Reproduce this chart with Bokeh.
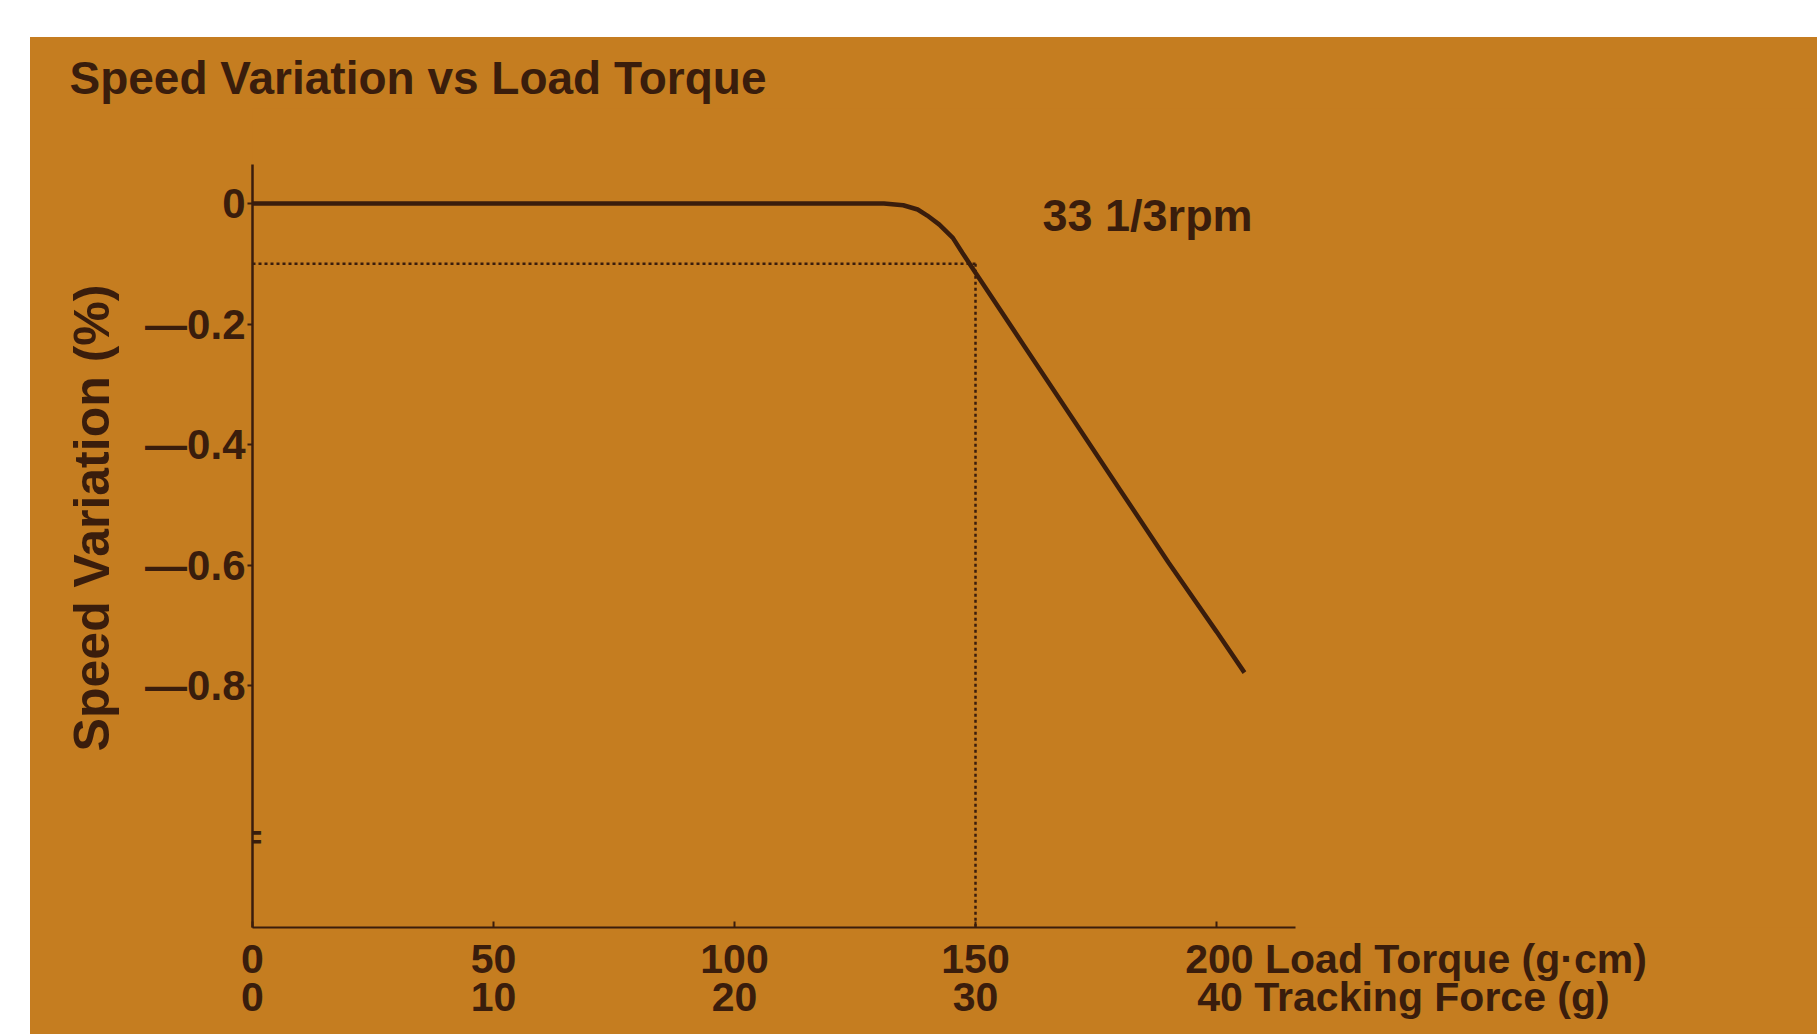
from bokeh.plotting import figure
from bokeh.models import Range1d, FixedTicker, LinearAxis, Label, Spacer
from bokeh.layouts import column, row
from bokeh.embed import file_html
from bokeh.resources import INLINE

# ---- data ----
torque = [0, 60, 120, 131, 135, 138, 140, 142.5, 145.3, 147.3, 150, 160, 170, 180, 190, 200, 205.8]
speed_var = [0, 0, 0, 0, -0.003, -0.010, -0.020, -0.035, -0.057, -0.082, -0.115,
             -0.235, -0.355, -0.475, -0.595, -0.71, -0.778]

x_ticks = [0, 50, 100, 150, 200]
x_labels_torque = ["0", "50", "100", "150", "200 Load Torque (g\u00b7cm)"]
x_labels_force = ["0", "10", "20", "30", "40 Tracking Force (g)"]
y_ticks = [0, -0.2, -0.4, -0.6, -0.8]
y_labels = ["0", "\u20140.2", "\u20140.4", "\u20140.6", "\u20140.8"]

ref_x = 150      # reference torque (dotted guide)
ref_y = -0.1     # reference speed variation (dotted guide)
break_y = -1.05  # axis break position
x_axis_end = 216.4
y_axis_top = 0.0647
y_axis_bottom = -1.2007

title_text = "Speed Variation vs Load Torque"
y_title = "Speed Variation (%)"
curve_label = "33 1/3rpm"

# anchor of the last (long) tick label so that its number sits under 200
last_anchor_torque = 241.4
last_anchor_force = 238.8

# ---- styling ----
BG = "#C57D20"
INK = "#3A1D0C"
FONT = "Liberation Sans"

p = figure(frame_width=1560, frame_height=819,
           x_range=Range1d(0, 323.65), y_range=Range1d(y_axis_bottom, 0.1575),
           output_backend="svg", toolbar_location=None,
           min_border_left=222, min_border_right=5,
           min_border_top=71, min_border_bottom=107)
p.background_fill_color = BG
p.border_fill_color = BG
p.outline_line_color = None
p.grid.visible = False
p.styles = {"background-color": BG}

# title
p.title.text = title_text
p.title.text_font = FONT
p.title.text_font_size = "46px"
p.title.text_font_style = "bold"
p.title.text_color = INK
p.title.align = "left"
p.title.offset = -183
p.title.standoff = 10

# y axis
ya = p.yaxis[0]
ya.bounds = (y_axis_bottom, y_axis_top)
ya.ticker = FixedTicker(ticks=y_ticks)
ya.major_label_overrides = {t: l for t, l in zip(y_ticks, y_labels)}
ya.minor_tick_line_color = None
ya.major_tick_out = 5
ya.major_tick_in = 0
ya.major_tick_line_width = 2
ya.major_tick_line_color = INK
ya.axis_line_color = INK
ya.axis_line_width = 2.5
ya.major_label_text_font = FONT
ya.major_label_text_font_size = "42px"
ya.major_label_text_font_style = "bold"
ya.major_label_text_color = INK
ya.major_label_standoff = 2
ya.axis_label = y_title
ya.axis_label_text_font = FONT
ya.axis_label_text_font_size = "50px"
ya.axis_label_text_font_style = "bold"
ya.axis_label_text_color = INK
ya.axis_label_standoff = 22

# x axis line + ticks
xa = p.xaxis[0]
xa.bounds = (0, x_axis_end)
xa.ticker = FixedTicker(ticks=x_ticks)
xa.major_label_overrides = {t: "" for t in x_ticks}
xa.major_label_text_font_size = "1px"
xa.major_label_standoff = 0
xa.minor_tick_line_color = None
xa.major_tick_out = 0
xa.major_tick_in = 6
xa.major_tick_line_width = 2
xa.major_tick_line_color = INK
xa.axis_line_color = INK
xa.axis_line_width = 2


def label_axis(ticks, labels, standoff):
    ax = LinearAxis(ticker=FixedTicker(ticks=ticks))
    ax.major_label_overrides = {t: l for t, l in zip(ticks, labels)}
    ax.axis_line_color = None
    ax.major_tick_line_color = None
    ax.minor_tick_line_color = None
    ax.major_tick_out = 0
    ax.major_tick_in = 0
    ax.major_label_text_font = FONT
    ax.major_label_text_font_size = "41px"
    ax.major_label_text_font_style = "bold"
    ax.major_label_text_color = INK
    ax.major_label_standoff = standoff
    return ax


p.add_layout(label_axis(x_ticks[:-1] + [last_anchor_torque], x_labels_torque, 8), "below")
p.add_layout(label_axis(x_ticks[:-1] + [last_anchor_force], x_labels_force, -11), "below")

# dotted guides
p.segment(x0=[0, ref_x], y0=[ref_y, ref_y], x1=[ref_x, ref_x], y1=[ref_y, y_axis_bottom],
          line_color=INK, line_width=2.5, line_dash="3 3")

# curve
p.line(torque, speed_var, line_color=INK, line_width=4.5)

# annotations
p.add_layout(Label(x=163.9, y=-0.02, text=curve_label, text_font=FONT, text_font_size="45px",
                   text_font_style="bold", text_color=INK, text_baseline="middle"))
p.add_layout(Label(x=0, y=break_y, text="=", text_font=FONT, text_font_size="34px",
                   text_font_style="bold", text_color=INK, text_align="center",
                   text_baseline="middle"))

layout = column(Spacer(height=37), row(Spacer(width=30), p))
open("out.html", "w").write(file_html(layout, INLINE))
